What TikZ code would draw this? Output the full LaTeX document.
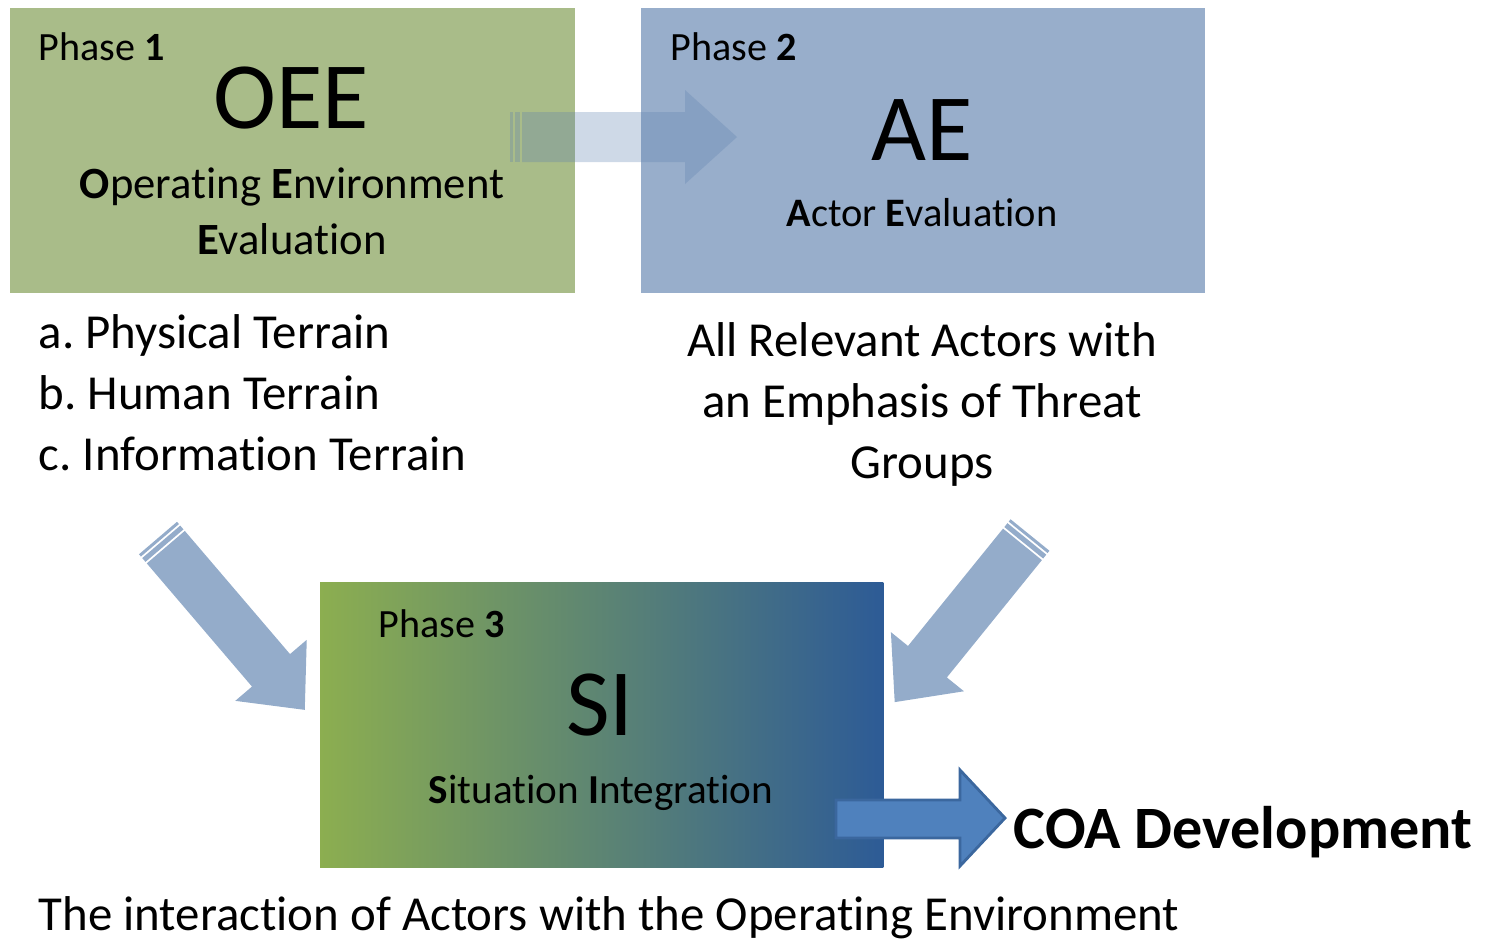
\documentclass[tikz,border=0pt]{standalone}
\usepackage{fontspec}
\setmainfont[Ligatures=NoCommon]{Carlito}
\usetikzlibrary{positioning}
\definecolor{oeegreen}{HTML}{A9BC89}
\definecolor{aeblue}{HTML}{98AECB}
\definecolor{sigreen}{HTML}{8CAE50}
\definecolor{siblue}{HTML}{2D5B96}
\definecolor{flowblue}{HTML}{94ACCA}
\definecolor{fadeblue}{HTML}{5E80AE}
\definecolor{coablue}{HTML}{4F81BD}
\definecolor{coaedge}{HTML}{3B679E}
\tikzset{phasebox/.style={anchor=north west, inner sep=0pt, outer sep=0pt},
  phaselbl/.style={anchor=base west, inner sep=0pt, font=\fontsize{11.4}{13}\selectfont},
  bigname/.style={anchor=base, inner sep=0pt, font=\fontsize{27}{32}\selectfont},
  subname/.style={anchor=base, inner sep=0pt, font=\fontsize{12.7}{15}\selectfont},
  notes/.style={inner sep=0pt, font=\fontsize{13.9}{16}\selectfont}}
% striped block arrow: tail, angle, length, fill style
\newcommand{\stripearrow}[4]{%
  \begin{scope}[shift={(#1)}, rotate=#2]
    \fill[#4] (0,-25) rectangle (3,25);
    \fill[#4] (5,-25) rectangle (10,25);
    \fill[#4] (12,-25) -- (#3-52,-25) -- (#3-52,-47) -- (#3,0) -- (#3-52,47) -- (#3-52,25) -- (12,25) -- cycle;
  \end{scope}}

\begin{document}
\frenchspacing
\begin{tikzpicture}[x=0.01cm, y=-0.01cm]
    \useasboundingbox (0,0) rectangle (1489,941);
    % phase boxes
    \node[phasebox, fill=oeegreen, minimum width=5.65cm, minimum height=2.85cm] (oeebox) at (10,8) {};
    \node[phasebox, fill=aeblue, minimum width=5.64cm, minimum height=2.85cm] (aebox) at (641,8) {};
    \node[phasebox, left color=sigreen, right color=siblue, minimum width=5.63cm, minimum height=2.85cm] (sibox) at (320,582) {};
    % phase 1
    \node[phaselbl] (oeephase) at (38,60) {Phase \textbf{1}};
    \node[bigname] (oee) at (291,128) {OEE};
    \node[subname] (oeesub) at (292,198) {\textbf{O}perating \textbf{E}nvironment};
    \node[subname] (oeesubb) at (292,254) {\textbf{E}valuation};
    % phase 2
    \node[phaselbl] (aephase) at (670,60) {Phase \textbf{2}};
    \node[bigname] (ae) at (922,160) {AE};
    \node[subname, font=\fontsize{11.5}{14}\selectfont] (aesub) at (922,226) {\textbf{A}ctor \textbf{E}valuation};
    % phase 3
    \node[phaselbl] (siphase) at (378,637) {Phase \textbf{3}};
    \node[bigname] (si) at (600,735) {SI};
    \node[subname, font=\fontsize{11.7}{14}\selectfont] (sisub) at (601,803) {\textbf{S}ituation \textbf{I}ntegration};
    % notes under the boxes
    \node[notes, anchor=base west] (terraina) at (38,348) {a. Physical Terrain};
    \node[notes, anchor=base west] (terrainb) at (38,409) {b. Human Terrain};
    \node[notes, anchor=base west] (terrainc) at (38,470) {c. Information Terrain};
    \node[notes, anchor=base] (actorsa) at (922,356) {All Relevant Actors with};
    \node[notes, anchor=base] (actorsb) at (922,417) {an Emphasis of Threat};
    \node[notes, anchor=base] (actorsc) at (922,478) {Groups};
    \node[notes, anchor=base west] (interaction) at (38,930) {The interaction of Actors with the Operating Environment};
    \node[anchor=base west, inner sep=0pt, font=\fontsize{17.1}{20}\selectfont\bfseries] (coa) at (1013,848) {COA Development};
    % flow arrows
    \coordinate (oeetail) at (510,137);
    \coordinate (lefttail) at (158,538);
    \coordinate (righttail) at (1030,535);
    \coordinate (coatip) at (1005,818);
    \stripearrow{oeetail}{0}{227}{fadeblue, opacity=0.3}
    \stripearrow{lefttail}{-49.5}{226}{flowblue}
    \stripearrow{righttail}{231}{215}{flowblue}
    \draw[fill=coablue, draw=coaedge, line width=0.8pt] (836,800) -- (960,800) -- (960,770) -- (coatip) -- (960,866) -- (960,838) -- (836,838) -- cycle;
\end{tikzpicture}
\end{document}
